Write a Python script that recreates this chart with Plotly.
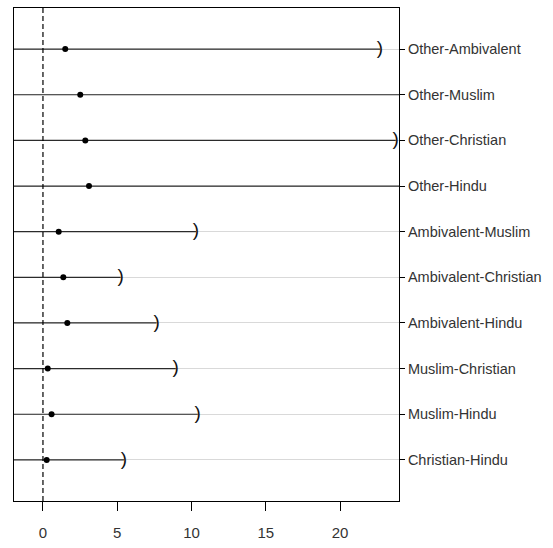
import plotly.graph_objects as go

# Pairwise contrasts, bottom row first
contrasts = [
    "Christian-Hindu", "Muslim-Hindu", "Muslim-Christian", "Ambivalent-Hindu",
    "Ambivalent-Christian", "Ambivalent-Muslim", "Other-Hindu", "Other-Christian",
    "Other-Muslim", "Other-Ambivalent",
]
estimate = [0.25, 0.58, 0.32, 1.64, 1.37, 1.06, 3.10, 2.85, 2.51, 1.50]
upper = [5.45, 10.42, 8.94, 7.65, 5.23, 10.30, 33.0, 23.75, 31.0, 22.69]
lower = [2 * e - u for e, u in zip(estimate, upper)]

x_ticks = [0, 5, 10, 15, 20]
rows = list(range(1, len(contrasts) + 1))

fig = go.Figure()

# Interval segments
for r, lo, hi in zip(rows, lower, upper):
    fig.add_trace(go.Scatter(
        x=[lo, hi], y=[r, r], mode="lines",
        line=dict(color="#2b2b2b", width=1.2),
        hoverinfo="skip", showlegend=False,
    ))

# Upper-bound brackets
fig.add_trace(go.Scatter(
    x=upper, y=rows, mode="text", text=[")"] * len(rows),
    textposition="middle center",
    textfont=dict(family="Liberation Sans, Arial", size=19, color="#111111"),
    cliponaxis=True, hoverinfo="skip", showlegend=False,
))

# Point estimates
fig.add_trace(go.Scatter(
    x=estimate, y=rows, mode="markers",
    marker=dict(color="black", size=6),
    hoverinfo="skip", showlegend=False,
))

# Reference line at zero
fig.add_shape(type="line", xref="x", yref="paper", x0=0, x1=0, y0=0, y1=1,
              line=dict(color="black", width=1.2, dash="5px,3px"))

fig.update_layout(
    width=553, height=548,
    margin=dict(l=14, r=154, t=7, b=45),
    plot_bgcolor="white", paper_bgcolor="white",
    font=dict(family="Liberation Sans, Arial", size=14.5, color="#333333"),
    xaxis=dict(
        range=[-1.95, 23.97], tickvals=x_ticks, ticktext=[str(t) for t in x_ticks],
        showgrid=False, zeroline=False,
        showline=True, mirror=True, linecolor="black", linewidth=1,
        ticks="outside", ticklen=9, tickcolor="black",
        tickfont=dict(size=15), ticklabelstandoff=9,
    ),
    yaxis=dict(
        range=[0.1, 10.9], tickvals=rows, ticktext=contrasts, side="right",
        showgrid=True, gridcolor="#d9d9d9", gridwidth=1, zeroline=False,
        showline=True, mirror=True, linecolor="black", linewidth=1,
        ticks="outside", ticklen=5, tickcolor="black",
    ),
)

fig.write_html("out.html")
